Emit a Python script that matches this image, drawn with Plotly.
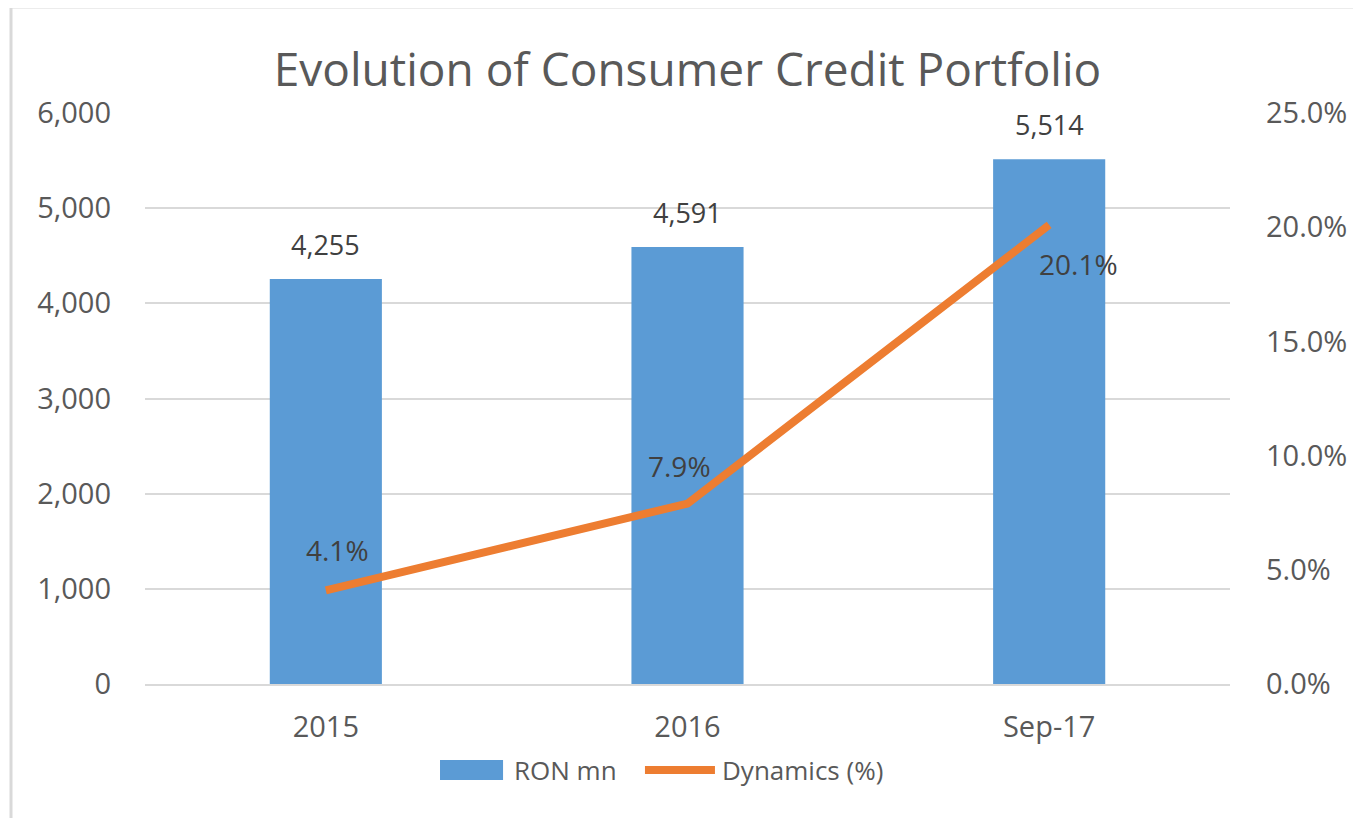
import plotly.graph_objects as go

categories = ["2015", "2016", "Sep-17"]
portfolio = [4255, 4591, 5514]
dynamics = [4.1, 7.9, 20.1]

left_ticks = [0, 1000, 2000, 3000, 4000, 5000, 6000]
right_ticks = [0, 5, 10, 15, 20, 25]

blue = "#5B9BD5"
orange = "#ED7D31"
grey = "#595959"
label_grey = "#404040"
font = "Open Sans, Noto Sans, sans-serif"

fig = go.Figure()

fig.add_trace(go.Bar(
    x=categories, y=portfolio, name="RON mn",
    marker=dict(color=blue, line=dict(width=0)),
    width=0.31, showlegend=False,
))

fig.add_trace(go.Scatter(
    x=categories, y=dynamics, name="Dynamics (%)", yaxis="y2",
    mode="lines", line=dict(color=orange, width=8),
    showlegend=False, cliponaxis=False,
))

annotations = []
# bar value labels (x given as category index: numeric-looking names would be misread)
for i, v in enumerate(portfolio):
    annotations.append(dict(x=i, y=v, xref="x", yref="y", text=f"{v:,}", showarrow=False,
                            yanchor="middle", yshift=35,
                            font=dict(size=27, color=label_grey, family=font)))
# line value labels
shifts = [(12, 40), (-8, 38), (29, -39)]
for i, (v, (dx, dy)) in enumerate(zip(dynamics, shifts)):
    annotations.append(dict(x=i, y=v, xref="x", yref="y2", text=f"{v:.1f}%", showarrow=False,
                            yanchor="middle", xshift=dx, yshift=dy,
                            font=dict(size=28, color=label_grey, family=font)))
# legend text
annotations += [
    dict(x=0.3382, y=-0.1506, xref="paper", yref="paper", text="RON mn", showarrow=False,
         xanchor="left", yanchor="middle", font=dict(size=26, color=grey, family=font)),
    dict(x=0.530, y=-0.1506, xref="paper", yref="paper", text="Dynamics (%)", showarrow=False,
         xanchor="left", yanchor="middle", font=dict(size=26, color=grey, family=font)),
]

fig.update_layout(
    width=1353, height=810,
    margin=dict(l=137, r=131, t=105, b=134),
    paper_bgcolor="white", plot_bgcolor="white",
    font=dict(family=font, color=grey, size=29),
    title=dict(text="Evolution of Consumer Credit Portfolio", x=0.5, xanchor="center",
               xref="paper", y=0.9235, yanchor="middle",
               font=dict(size=46, color=grey, family=font)),
    showlegend=False,
    xaxis=dict(type="category", categoryorder="array", categoryarray=categories,
               range=[-0.5, len(categories) - 0.5],
               showline=True, linecolor="#D9D9D9", linewidth=2, ticks="",
               tickfont=dict(size=29, color=grey), showgrid=False,
               ticklabelstandoff=16, automargin=False),
    yaxis=dict(range=[0, 6000], tickvals=left_ticks, tickformat=",",
               showgrid=True, gridcolor="#D9D9D9", gridwidth=2,
               zeroline=False, ticks="", ticklabelstandoff=33, automargin=False,
               tickfont=dict(size=29, color=grey)),
    yaxis2=dict(range=[0, 25], tickvals=right_ticks, overlaying="y", side="right",
                ticktext=[f"{v:.1f}%" for v in right_ticks],
                showgrid=False, zeroline=False, ticks="", ticklabelstandoff=35,
                automargin=False, tickfont=dict(size=29, color=grey)),
    annotations=annotations,
    shapes=[
        # chart border (top and left)
        dict(type="line", xref="paper", yref="paper", x0=-0.1235, x1=1.2, y0=1.1856, y1=1.1856,
             line=dict(color="#D9D9D9", width=3)),
        dict(type="line", xref="paper", yref="paper", x0=-0.1235, x1=-0.1235, y0=-0.3, y1=1.1856,
             line=dict(color="#D9D9D9", width=3)),
        # legend swatches
        dict(type="rect", xref="paper", yref="paper", x0=0.2719, x1=0.33, y0=-0.168, y1=-0.133,
             fillcolor=blue, line=dict(width=0)),
        dict(type="line", xref="paper", yref="paper", x0=0.4608, x1=0.5253, y0=-0.1506, y1=-0.1506,
             line=dict(color=orange, width=8)),
    ],
)

fig.write_html("out.html")
